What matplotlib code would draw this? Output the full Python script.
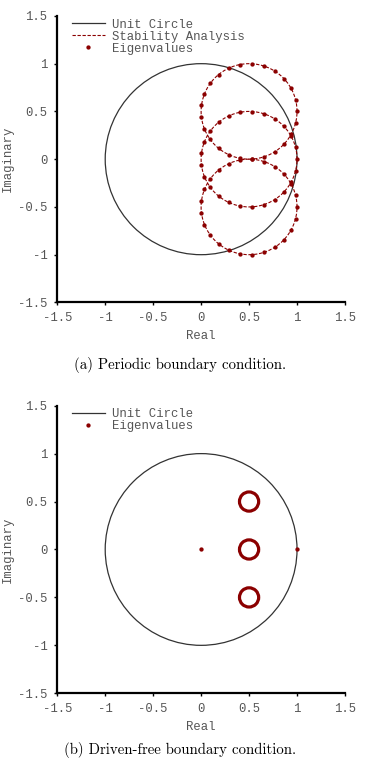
import matplotlib
matplotlib.use("Agg")
import numpy as np
import matplotlib.pyplot as plt
from matplotlib.patches import Circle
from matplotlib.lines import Line2D

# Eigenwerte liegen auf Kreisen (Mittelpunkt, Radius)
unit_center = (0.0, 0.0)
unit_radius = 1.0

stab_centers = [(0.5, 0.5), (0.5, 0.0), (0.5, -0.5)]
stab_radius = 0.5
# Winkel der Eigenwerte auf jedem Kreis (Grad)
eig_angles = [0.0, 14.4, 28.8, 43.2, 57.6, 72.0, 86.4, 100.8, 115.2, 129.6,
              144.0, 158.4, 172.8, 187.2, 201.6, 216.0, 230.4, 244.8, 259.2,
              273.6, 288.0, 302.4, 316.8, 331.2, 345.6]

# (b) dichte Eigenwert-Ringe + Einzelpunkte
ring_centers = [(0.5, 0.5), (0.5, 0.0), (0.5, -0.5)]
ring_radius = 0.1
single_re = [0.0, 1.0]
single_im = [0.0, 0.0]

ticks = [-1.5, -1, -0.5, 0, 0.5, 1, 1.5]
tick_labels = ["-1.5", "-1", "-0.5", "0", "0.5", "1", "1.5"]

mono = "Liberation Mono"
fs = 8.8
gray = "#555555"
red = "#8b0000"
circ_col = "#333333"

fig = plt.figure(figsize=(3.67, 7.58), dpi=100)
ax_a = fig.add_axes([0.156, 0.601, 0.784, 0.378])
ax_b = fig.add_axes([0.156, 0.0854, 0.784, 0.3794])


def style_axes(ax):
    ax.set_xlim(-1.5, 1.5)
    ax.set_ylim(-1.5, 1.5)
    for s in ["top", "right"]:
        ax.spines[s].set_visible(False)
    for s in ["left", "bottom"]:
        ax.spines[s].set_linewidth(1.6)
        ax.spines[s].set_color("black")
    ax.set_xticks(ticks)
    ax.set_xticklabels(tick_labels)
    ax.set_yticks(ticks)
    ax.set_yticklabels(tick_labels)
    ax.tick_params(length=2, width=1, pad=5, labelsize=fs, labelcolor=gray)
    for lab in ax.get_xticklabels() + ax.get_yticklabels():
        lab.set_family(mono)
    ax.set_xlabel("Real", family=mono, fontsize=fs, color=gray, labelpad=4)
    ax.set_ylabel("Imaginary", family=mono, fontsize=fs, color=gray, labelpad=3)
    ax.add_patch(Circle(unit_center, unit_radius, fill=False, ec=circ_col, lw=0.9))


style_axes(ax_a)
style_axes(ax_b)

# (a)
ang = np.deg2rad(eig_angles)
for cx, cy in stab_centers:
    ax_a.add_patch(Circle((cx, cy), stab_radius, fill=False, ec=red, lw=0.8,
                          ls=(0, (3, 1.5))))
    ax_a.plot(cx + stab_radius * np.cos(ang), cy + stab_radius * np.sin(ang),
              "o", color=red, ms=3.1, mew=0, zorder=3)

h_unit = Line2D([], [], color=circ_col, lw=0.9)
h_stab = Line2D([], [], color=red, lw=0.8, ls=(0, (3, 1.5)))
h_eig = Line2D([], [], color=red, marker="o", ms=3.1, mew=0, ls="none")
leg_kw = dict(loc="upper left", bbox_to_anchor=(0.03, 1.012), frameon=False,
              prop={"family": mono, "size": fs}, labelcolor=gray,
              handlelength=2.7, handletextpad=0.6, labelspacing=0.0, borderpad=0.0)
ax_a.legend([h_unit, h_stab, h_eig], ["Unit Circle", "Stability Analysis", "Eigenvalues"], **leg_kw)

# (b)
for cx, cy in ring_centers:
    ax_b.add_patch(Circle((cx, cy), ring_radius, fill=False, ec=red, lw=2.3))
ax_b.plot(single_re, single_im, "o", color=red, ms=3.1, mew=0, zorder=3)
ax_b.legend([h_unit, h_eig], ["Unit Circle", "Eigenvalues"], **leg_kw)

fig.text(0.49, 1 - 365 / 758, "(a) Periodic boundary condition.", family="cmr10",
         fontsize=10.7, ha="center", va="center")
fig.text(0.49, 1 - 750 / 758, "(b) Driven-free boundary condition.", family="cmr10",
         fontsize=10.7, ha="center", va="center")

fig.savefig("out.png", dpi=100)
